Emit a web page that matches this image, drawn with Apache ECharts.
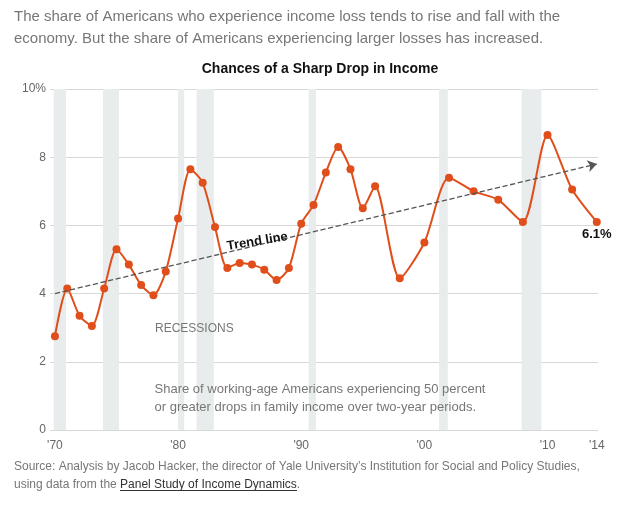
<!DOCTYPE html><html><head><meta charset="utf-8"><script src="https://cdn.jsdelivr.net/npm/echarts@6/dist/echarts.min.js"></script>
<style>body{margin:0;background:#fff}#c{width:640px;height:505px}</style></head><body><div id="c"></div><script>
const years=[1970,1971,1972,1973,1974,1975,1976,1977,1978,1979,1980,1981,1982,1983,1984,1985,1986,1987,1988,1989,1990,1991,1992,1993,1994,1995,1996,1998,2000,2002,2004,2006,2008,2010,2012,2014];
const values=[2.75,4.15,3.35,3.05,4.15,5.3,4.85,4.25,3.95,4.65,6.2,7.65,7.25,5.95,4.75,4.9,4.85,4.7,4.4,4.75,6.05,6.6,7.55,8.3,7.65,6.5,7.15,4.45,5.5,7.4,7.0,6.75,6.1,8.65,7.05,6.1];
const recessions=[[1969.9,1970.9],[1973.9,1975.2],[1980.0,1980.5],[1981.5,1982.9],[1990.6,1991.2],[2001.2,2001.9],[2007.9,2009.5]];
const trend=[[1970,4.0],[2014,7.8]];
const xTicks=[1970,1980,1990,2000,2010,2014];
const xLabels={1970:"'70",1980:"'80",1990:"'90",2000:"'00",2010:"'10",2014:"'14"};
const c=echarts.init(document.getElementById('c'));
const F='Liberation Sans, Arial, sans-serif';
c.setOption({animation:false,
grid:{left:50,right:42,top:89,bottom:75},
xAxis:{type:'value',min:1969.6,max:2014.1,splitLine:{show:false},axisLine:{show:false},axisTick:{show:false},
 axisLabel:{customValues:xTicks,formatter:v=>xLabels[v]||'',color:'#666',fontSize:12,fontFamily:F,margin:10}},
yAxis:{type:'value',min:0,max:10,interval:2,axisLine:{show:false},axisTick:{show:false},
 axisLabel:{formatter:v=>v===10?'10%':v,color:'#666',fontSize:12,fontFamily:F,margin:4},
 splitLine:{lineStyle:{color:'#d8d8d8'}}},
series:[
{type:'line',data:years.map((y,i)=>[y,values[i]]),smooth:0.25,symbol:'circle',symbolSize:8,itemStyle:{color:'#e04e1b'},lineStyle:{color:'#e04e1b',width:2},z:3,
 markArea:{silent:true,itemStyle:{color:'#e8ecec'},data:recessions.map(r=>[{xAxis:r[0]},{xAxis:r[1]}])}},
{type:'line',data:[],markLine:{silent:true,symbol:['none','arrow'],symbolSize:9,label:{show:false},lineStyle:{type:'dashed',color:'#555',width:1.3},
 data:[[{coord:trend[0]},{coord:trend[1]}]]},z:4}
],
graphic:{elements:[
{type:'text',z:100,left:14,top:6,style:{text:'The share of Americans who experience income loss tends to rise and fall with the\neconomy. But the share of Americans experiencing larger losses has increased.',fill:'#777',font:'15px '+F,lineHeight:22}},
{type:'text',z:100,left:'center',top:62,style:{text:'Chances of a Sharp Drop in Income',fill:'#111',font:'bold 14px '+F}},
{type:'text',z:100,left:155,top:323,style:{text:'RECESSIONS',fill:'#777',font:'12px '+F}},
{type:'text',z:100,x:226,y:240,rotation:0.16,style:{text:'Trend line',fill:'#111',font:'bold 13px '+F}},
{type:'text',z:100,x:582,y:228,style:{text:'6.1%',fill:'#111',font:'bold 13px '+F}},
{type:'text',z:100,left:'center',top:380,style:{text:'Share of working-age Americans experiencing 50 percent\nor greater drops in family income over two-year periods.',fill:'#777',font:'13px '+F,lineHeight:18,align:'center'}},
{type:'text',z:100,left:14,top:461,style:{text:'Source: Analysis by Jacob Hacker, the director of Yale University\u2019s Institution for Social and Policy Studies,',fill:'#777',font:'12px '+F}},
{type:'text',z:100,left:14,top:479,style:{rich:{a:{fill:'#777',font:'12px '+F},b:{fill:'#333',font:'12px '+F}},text:'{a|using data from the }{b|Panel Study of Income Dynamics}{a|.}'}},
{type:'rect',z:100,left:120,top:490,shape:{width:177,height:1},style:{fill:'#333'}}
]}});
</script></body></html>
